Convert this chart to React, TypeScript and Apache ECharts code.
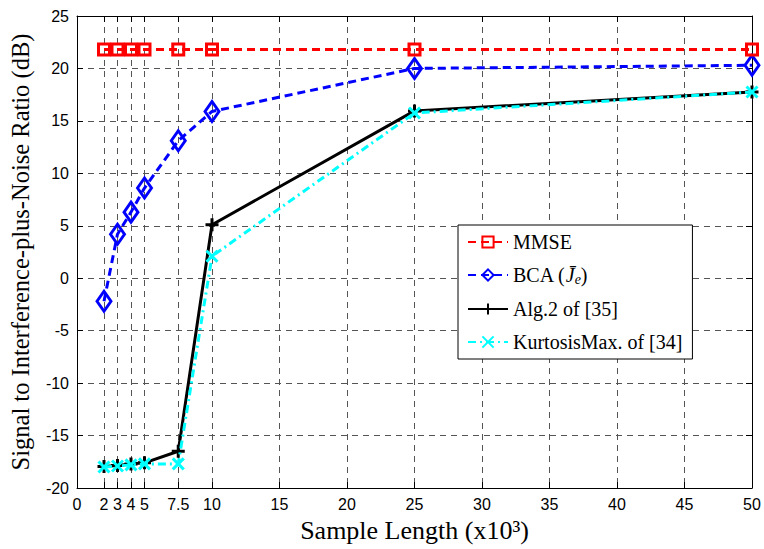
import React, { useEffect, useRef } from "react";
import * as echarts from "echarts";

const xValues = [2, 3, 4, 5, 7.5, 10, 25, 50];
const xTicks = [0, 2, 3, 4, 5, 7.5, 10, 15, 20, 25, 30, 35, 40, 45, 50];
const mmse = [21.8, 21.8, 21.8, 21.8, 21.8, 21.8, 21.8, 21.8];
const bca = [-2.2, 4.2, 6.3, 8.6, 13.1, 15.9, 20.0, 20.3];
const alg2 = [-17.95, -17.85, -17.7, -17.6, -16.5, 5.1, 15.95, 17.75];
const kurt = [-18.0, -17.9, -17.8, -17.7, -17.7, 2.1, 15.75, 17.75];

const seriesNames = ["MMSE", "BCA (J̄e)", "Alg.2 of [35]", "KurtosisMax. of [34]"];

const pair = (ys: number[]) => xValues.map((x, i) => [x, ys[i]]);

const serif = "Liberation Serif";
const sans = "Liberation Sans";

export default function App() {
  const ref = useRef<HTMLDivElement>(null);
  useEffect(() => {
    const chart = echarts.init(ref.current!, null, { renderer: "svg" });
    const gridLine = { show: true, lineStyle: { color: "#555", type: [6, 5] as any, width: 1 } };
    const tickStyle = { show: true, inside: true, length: 6, lineStyle: { color: "#000", width: 1 } };
    chart.setOption({
      animation: false,
      backgroundColor: "#fff",
      grid: { left: 77, right: 12, top: 16, bottom: 61, containLabel: false },
      legend: {
        orient: "vertical",
        left: 458,
        top: 225,
        padding: [7, 10, 7, 9],
        itemWidth: 40,
        itemHeight: 14,
        itemGap: 13,
        borderColor: "#000",
        borderWidth: 1,
        backgroundColor: "#fff",
        textStyle: {
          fontFamily: serif,
          fontSize: 20,
          color: "#000",
          rich: {
            n: { fontFamily: serif, fontSize: 20, color: "#000" },
            i: { fontFamily: serif, fontSize: 20, fontStyle: "italic", color: "#000" },
            s: { fontFamily: serif, fontSize: 14, fontStyle: "italic", color: "#000", verticalAlign: "bottom", padding: [8, 0, 0, 0] },
          },
        },
        formatter: (name: string) => {
          if (name === seriesNames[1]) return "{n|BCA (}{i|J̄}{s|e}{n|)}";
          return "{n|" + name + "}";
        },
        data: seriesNames,
      },
      xAxis: [
        {
          type: "value",
          min: 0,
          max: 50,
          position: "bottom",
          name: "Sample Length (x10³)",
          nameLocation: "middle",
          nameGap: 29,
          nameTextStyle: { fontFamily: serif, fontSize: 26, color: "#000" },
          axisLine: { show: true, onZero: false, lineStyle: { color: "#000", width: 1 } },
          axisTick: { ...tickStyle, customValues: xTicks },
          axisLabel: { customValues: xTicks, fontFamily: sans, fontSize: 16, color: "#000", margin: 8 },
          splitLine: { ...gridLine, customValues: xTicks },
        },
        {
          type: "value",
          min: 0,
          max: 50,
          position: "top",
          axisLine: { show: true, onZero: false, lineStyle: { color: "#000", width: 1 } },
          axisTick: { ...tickStyle, customValues: xTicks },
          axisLabel: { show: false },
          splitLine: { show: false },
        },
      ],
      yAxis: [
        {
          type: "value",
          min: -20,
          max: 25,
          interval: 5,
          position: "left",
          name: "Signal to Interference-plus-Noise Ratio (dB)",
          nameLocation: "middle",
          nameGap: 44,
          nameTextStyle: { fontFamily: serif, fontSize: 24.5, color: "#000" },
          axisLine: { show: true, onZero: false, lineStyle: { color: "#000", width: 1 } },
          axisTick: tickStyle,
          axisLabel: { fontFamily: sans, fontSize: 16, color: "#000", margin: 8 },
          splitLine: gridLine,
        },
        {
          type: "value",
          min: -20,
          max: 25,
          interval: 5,
          position: "right",
          axisLine: { show: true, onZero: false, lineStyle: { color: "#000", width: 1 } },
          axisTick: tickStyle,
          axisLabel: { show: false },
          splitLine: { show: false },
        },
      ],
      series: [
        {
          name: seriesNames[0],
          type: "line",
          data: pair(mmse),
          symbol: "rect",
          symbolSize: 11,
          lineStyle: { color: "#ff0000", width: 3, type: [8, 5] },
          itemStyle: { color: "rgba(0,0,0,0)", borderColor: "#ff0000", borderWidth: 3 },
          z: 5,
        },
        {
          name: seriesNames[1],
          type: "line",
          data: pair(bca),
          symbol: "diamond",
          symbolSize: [14, 20],
          lineStyle: { color: "#0000ff", width: 3, type: [8, 5] },
          itemStyle: { color: "rgba(0,0,0,0)", borderColor: "#0000ff", borderWidth: 3 },
          z: 4,
        },
        {
          name: seriesNames[2],
          type: "line",
          data: pair(alg2),
          symbol: "path://M0,5L10,5M5,0L5,10",
          symbolSize: 13,
          lineStyle: { color: "#000", width: 3, type: "solid" },
          itemStyle: { color: "rgba(0,0,0,0)", borderColor: "#000", borderWidth: 3 },
          z: 3,
        },
        {
          name: seriesNames[3],
          type: "line",
          data: pair(kurt),
          symbol: "path://M0,0L10,10M10,0L0,10",
          symbolSize: 11,
          lineStyle: { color: "#00ffff", width: 3, type: [8, 4, 2, 4] },
          itemStyle: { color: "rgba(0,0,0,0)", borderColor: "#00ffff", borderWidth: 3 },
          z: 6,
        },
      ],
    });
    return () => chart.dispose();
  }, []);
  return (
    <div
      ref={ref}
      style={{ position: "fixed", left: 0, top: 0, width: 764, height: 549 }}
    />
  );
}
